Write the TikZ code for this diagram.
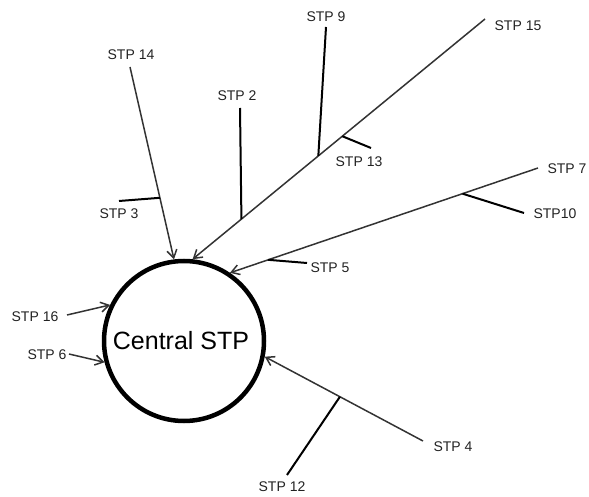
\documentclass[tikz,border=0pt]{standalone}
\usepackage{fontspec}
\setmainfont{Liberation Sans}
\usetikzlibrary{arrows.meta}
\definecolor{ln}{HTML}{333333}
\definecolor{tx}{HTML}{222222}
\tikzset{
  lbl/.style={inner sep=0pt, text=tx, font=\fontsize{14}{15}\selectfont},
  feed/.style={draw=ln, line width=1.5pt, -{Straight Barb[length=8pt,width=10pt,line width=1.5pt]}},
  branch/.style={draw=black, line width=2pt},
  hub/.style={circle, draw=black, line width=4.5pt, minimum size=160pt, inner sep=0pt,
    font=\fontsize{25}{28}\selectfont}
}
\begin{document}
\begin{tikzpicture}[x=1pt,y=-1pt]
\useasboundingbox (0,0) rectangle (589,497);
\node[hub] (c) at (184,341) {\raisebox{-4pt}{\hspace*{-6pt}Central STP}};
% labels
\node[lbl] (l14) at (131,55) {STP 14};
\node[lbl] (l3) at (119,214) {STP 3};
\node[lbl] (l2) at (237,96) {STP 2};
\node[lbl] (l9) at (326,17) {STP 9};
\node[lbl] (l15) at (518,26) {STP 15};
\node[lbl] (l13) at (359,162) {STP 13};
\node[lbl] (l7) at (567,169) {STP 7};
\node[lbl] (l10) at (555,214) {STP10};
\node[lbl] (l5) at (330,268) {STP 5};
\node[lbl] (l16) at (35,317) {STP 16};
\node[lbl] (l6) at (47,355) {STP 6};
\node[lbl] (l4) at (453,447) {STP 4};
\node[lbl] (l12) at (282,487) {STP 12};
% line ends
\coordinate (s14) at (130,67);
\coordinate (e3) at (119,201);
\coordinate (s15) at (485,19);
\coordinate (e2) at (240,108);
\coordinate (e9) at (326,27);
\coordinate (e13) at (371,148);
\coordinate (s7) at (538,168);
\coordinate (e10) at (524,213);
\coordinate (e5) at (307,263);
\coordinate (s16) at (67,315);
\coordinate (s6) at (69,354);
\coordinate (s4) at (423,441);
\coordinate (e12) at (287,475);
% feeders
\draw[feed] (s14) -- coordinate[pos=0.68] (j3) (c.97.5);
\draw[feed] (s15) -- coordinate[pos=0.488] (j13) coordinate[pos=0.57] (j9) coordinate[pos=0.833] (j2) (c.84.6);
\draw[feed] (s7) -- coordinate[pos=0.245] (j10) coordinate[pos=0.876] (j5) (c.56.7);
\draw[feed] (s4) -- coordinate[pos=0.525] (j12) (c.-11.2);
\draw[feed] (s16) -- (c.154);
\draw[feed] (s6) -- (c.195);
% branches
\draw[branch] (e3) -- (j3);
\draw[branch] (e2) -- (j2);
\draw[branch] (e9) -- (j9);
\draw[branch] (e13) -- (j13);
\draw[branch] (e10) -- (j10);
\draw[branch] (e5) -- (j5);
\draw[branch] (e12) -- (j12);
\end{tikzpicture}
\end{document}
